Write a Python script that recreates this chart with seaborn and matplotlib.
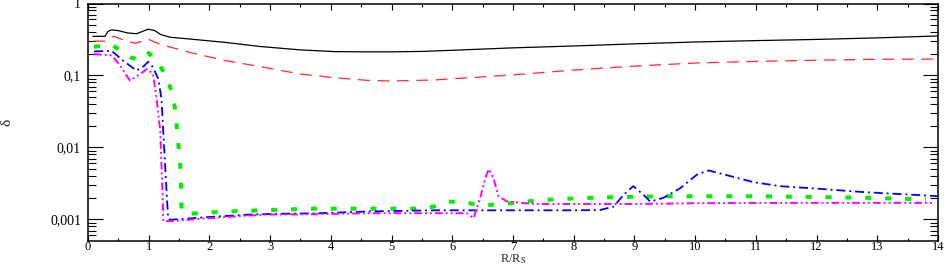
import numpy as np
import pandas as pd
import matplotlib
matplotlib.use("Agg")
import matplotlib.pyplot as plt
import seaborn as sns

# ---- data ----
black_x = [0.08, 0.28, 0.33, 0.39, 0.5, 0.65, 0.8, 0.9, 0.99, 1.1, 1.2, 1.35, 1.73, 2.28, 2.83,
           3.49, 4.04, 4.5, 5.0, 5.5, 6.0, 7.0, 8.0, 9.0, 10.0, 11.0, 12.0, 13.0, 14.0]
black_y = [0.35, 0.35, 0.41, 0.43, 0.42, 0.39, 0.38, 0.41, 0.44, 0.42, 0.37, 0.34, 0.318, 0.287, 0.253,
           0.227, 0.215, 0.213, 0.213, 0.216, 0.224, 0.242, 0.257, 0.275, 0.292, 0.305, 0.317, 0.333, 0.354]

red_x = [0.09, 0.28, 0.35, 0.42, 0.6, 0.77, 0.9, 0.99, 1.19, 1.73, 2.28, 2.83, 3.49, 4.04, 4.59,
         5.0, 5.69, 6.24, 7.0, 8.0, 9.0, 10.0, 11.0, 12.0, 13.0, 14.0]
red_y = [0.30, 0.30, 0.33, 0.35, 0.31, 0.28, 0.30, 0.32, 0.27, 0.204, 0.16, 0.133, 0.105, 0.0934, 0.0857,
         0.0838, 0.0866, 0.0926, 0.102, 0.119, 0.135, 0.149, 0.157, 0.163, 0.168, 0.169]

green_x = [0.1, 0.39, 0.55, 0.72, 0.88, 1.0, 1.13, 1.21, 1.30, 1.38, 1.43, 1.46, 1.49, 1.52, 1.53,
           1.535, 1.54, 1.63, 2.0, 2.4, 3.0, 3.7, 4.4, 5.0, 5.4, 5.7, 5.9, 6.2, 6.5, 6.85, 7.45,
           8.1, 8.8, 9.5, 10.0, 11.0, 12.0, 12.8, 13.8]
green_y = [0.25, 0.267, 0.22, 0.175, 0.166, 0.205, 0.16, 0.126, 0.092, 0.059, 0.036, 0.0203, 0.0107, 0.0057, 0.003,
           0.002, 0.00129, 0.00119, 0.00125, 0.0013, 0.00135, 0.00141, 0.00141, 0.00141, 0.00141, 0.00151, 0.00178, 0.00172, 0.00157, 0.00164, 0.00185,
           0.00198, 0.00205, 0.0021, 0.0021, 0.0021, 0.00205, 0.002, 0.0019]

blue_x = [0.1, 0.39, 0.58, 0.80, 0.92, 0.99, 1.07, 1.16, 1.21, 1.24, 1.27, 1.30, 1.32, 1.35, 1.57,
          2.12, 2.67, 3.2, 3.8, 4.6, 5.7, 6.8, 7.9, 8.43, 8.66, 8.82, 8.98, 9.15, 9.26, 9.48, 9.75,
          10.03, 10.22, 10.58, 10.96, 11.4, 11.95, 12.77, 13.6, 14.0]
blue_y = [0.216, 0.22, 0.16, 0.117, 0.135, 0.155, 0.13, 0.089, 0.047, 0.0166, 0.0057, 0.002, 0.00104, 0.00099, 0.00102,
          0.0011, 0.00117, 0.0012, 0.00122, 0.00129, 0.00134, 0.00134, 0.00134, 0.00135, 0.00151, 0.00219, 0.0029, 0.0022, 0.00177, 0.002, 0.0027,
          0.0042, 0.0048, 0.004, 0.0033, 0.0029, 0.0027, 0.0024, 0.0022, 0.0021]

magenta_x = [0.1, 0.39, 0.53, 0.69, 0.86, 0.97, 1.07, 1.13, 1.19, 1.21, 1.23, 1.24, 1.4, 1.85, 2.4,
             2.94, 3.7, 4.6, 5.7, 6.24, 6.35, 6.46, 6.54, 6.6, 6.68, 6.76, 6.9, 7.34, 8.16, 9.0,
             10.0, 11.7, 13.9]
magenta_y = [0.198, 0.19, 0.137, 0.085, 0.105, 0.123, 0.105, 0.047, 0.0166, 0.0057, 0.002, 0.00095, 0.00095, 0.00102, 0.0011,
             0.00117, 0.00118, 0.00122, 0.00122, 0.00122, 0.00104, 0.002, 0.0037, 0.005, 0.0037, 0.0021, 0.00178, 0.00164, 0.00164, 0.00164,
             0.00168, 0.0017, 0.0017]

x_ticks = list(range(0, 15))
y_ticks = [0.001, 0.01, 0.1, 1]
y_tick_labels = ["0,001", "0,01", "0,1", "1"]

# ---- style ----
sns.set_theme(style="ticks")
plt.rcParams["font.family"] = ["Liberation Serif", "DejaVu Serif"]
plt.rcParams["mathtext.fontset"] = "stix"
plt.rcParams["lines.scale_dashes"] = False

W, H = 953, 267
fig = plt.figure(figsize=(W / 100, H / 100), dpi=100)
ax_left, ax_right, ax_top, ax_bottom = 88, 938, 3.5, 240.5
ax = fig.add_axes([ax_left / W, 1 - ax_bottom / H, (ax_right - ax_left) / W, (ax_bottom - ax_top) / H])

series = [
    (black_x, black_y, "black", 0.9, "-"),
    (red_x, red_y, "#ff2a2a", 0.9, (0, (8.5, 5.5))),
    (green_x, green_y, "#00ee00", 2.9, (0, (4.3, 10.0))),
    (blue_x, blue_y, "#0000ff", 1.3, (0, (6.5, 2.8, 1.4, 2.8))),
    (magenta_x, magenta_y, "#ff00ff", 1.4, (0, (5.5, 2.2, 1.4, 2.2, 1.4, 2.2))),
]
for xs, ys, col, lw, ls in series:
    df = pd.DataFrame({"x": xs, "y": ys})
    sns.lineplot(data=df, x="x", y="y", ax=ax, color=col, linewidth=lw,
                 linestyle=ls, sort=False, estimator=None, dash_capstyle="butt")

ax.set_yscale("log")
ax.set_xlim(0, 14)
ax.set_ylim(5.1e-4, 1)
ax.set_xticks(x_ticks)
ax.set_xticklabels([str(t) for t in x_ticks])
ax.set_xticks(np.arange(0.5, 14, 1.0), minor=True)
ax.set_yticks(y_ticks)
ax.set_yticklabels(y_tick_labels)
ax.yaxis.set_minor_locator(matplotlib.ticker.LogLocator(base=10, subs=np.arange(2, 10), numticks=20))
ax.yaxis.set_minor_formatter(matplotlib.ticker.NullFormatter())

for s in ax.spines.values():
    s.set_linewidth(1.1)
    s.set_color("black")

ax.tick_params(axis="both", which="both", direction="in", top=True, right=True,
               colors="black", labelsize=10, width=0.8)
ax.tick_params(axis="x", which="major", length=4.5, pad=0.5, labelsize=9)
ax.tick_params(axis="x", which="minor", length=2.5)
ax.tick_params(axis="y", which="major", length=10.8, pad=5)
ax.tick_params(axis="y", which="minor", length=5.8)

ax.set_xlabel(r"R/R$_{\mathrm{S}}$", fontsize=9, va="bottom")
ax.xaxis.set_label_coords(0.5, -(266.5 - ax_bottom) / (ax_bottom - ax_top))
ax.set_ylabel("δ", fontsize=11)
ax.yaxis.set_label_coords(-0.088, 0.5)

fig.savefig("out.png", dpi=100)
